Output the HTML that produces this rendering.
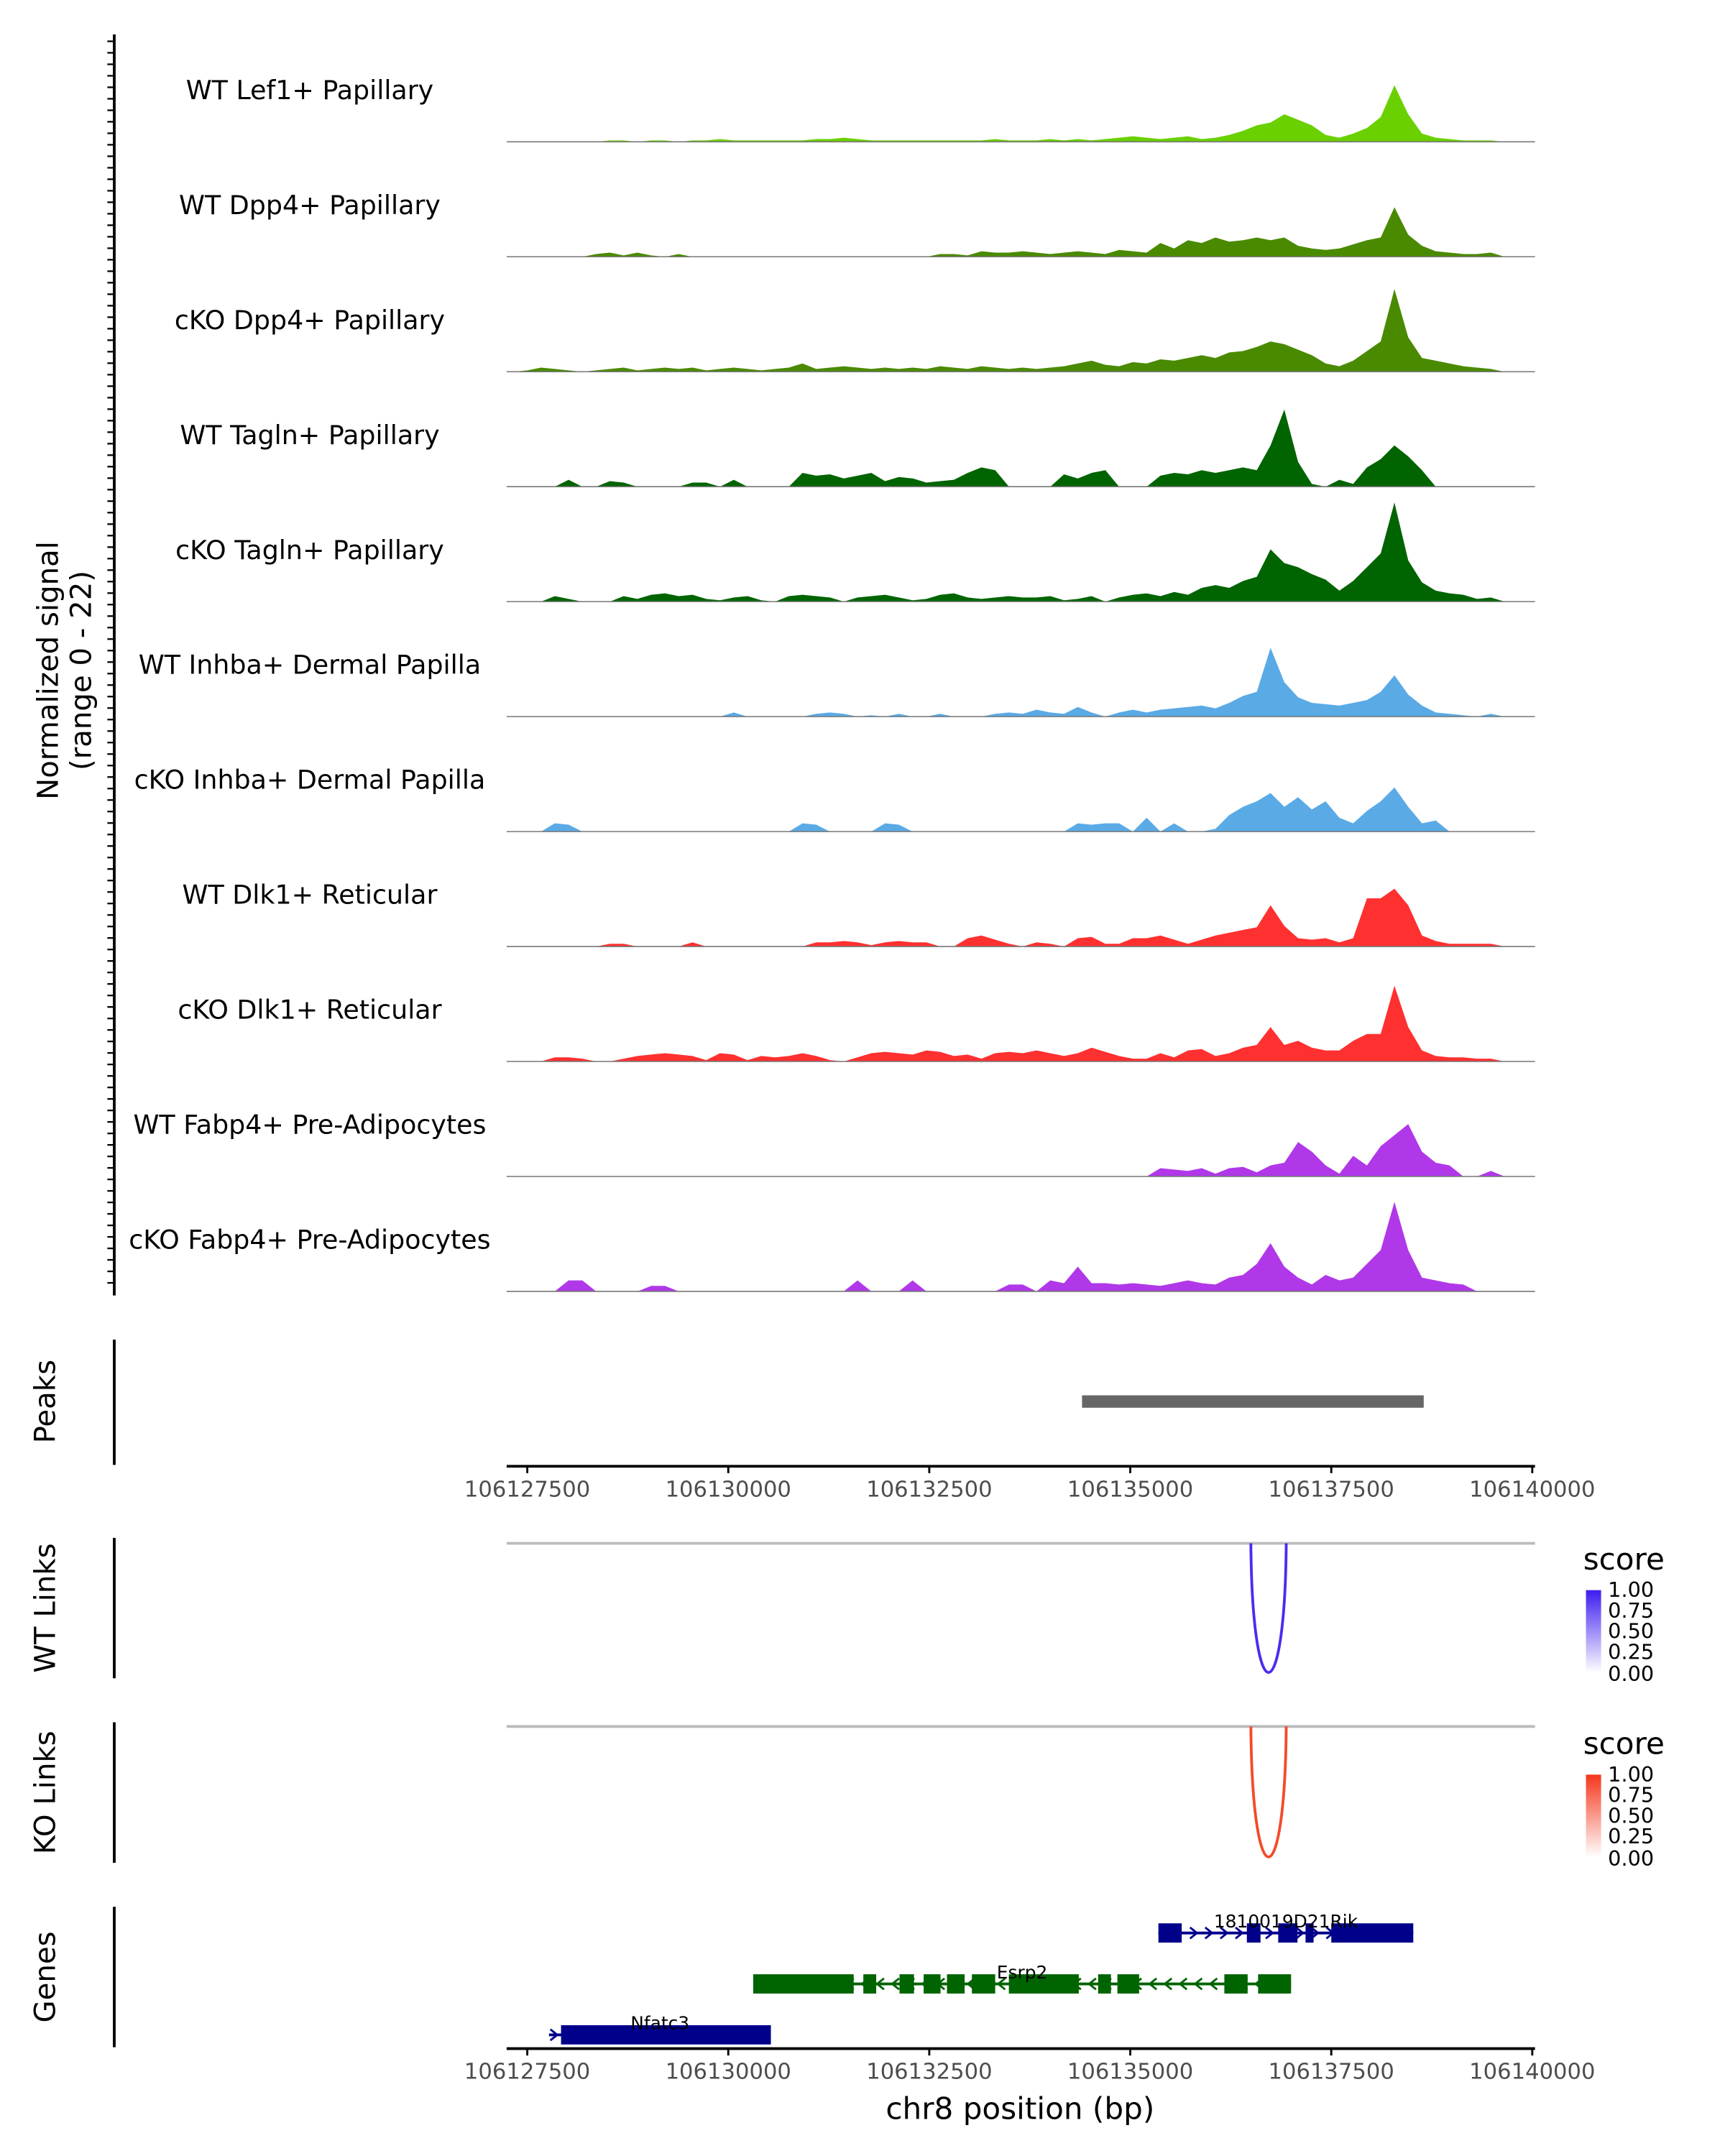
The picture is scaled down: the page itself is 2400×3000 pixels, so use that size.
<!DOCTYPE html>
<html><head><meta charset="utf-8"><style>
html,body{margin:0;padding:0;background:#fff}
svg{display:block;font-family:"DejaVu Sans","Liberation Sans",sans-serif}
</style></head><body>
<svg id="chart" xmlns="http://www.w3.org/2000/svg" width="2400" height="3000" viewBox="0 0 1253 1566" preserveAspectRatio="none">
<rect width="1260" height="1570" fill="#fff"/>
<g id="tracks"></g>
<text transform="translate(42,487) rotate(-90)" text-anchor="middle" font-size="21" fill="#000">Normalized signal</text>
<text transform="translate(66,487) rotate(-90)" text-anchor="middle" font-size="21" fill="#000">(range 0 - 22)</text>
<line x1="83" y1="25" x2="83" y2="941" stroke="#000" stroke-width="2"/>
<g id="ticks"></g>

<text transform="translate(40,1018) rotate(-90)" text-anchor="middle" font-size="21">Peaks</text>
<line x1="83" y1="973" x2="83" y2="1064" stroke="#000" stroke-width="2"/>
<g id="peaks"></g>
<g id="xaxis1"></g>

<text transform="translate(40,1168) rotate(-90)" text-anchor="middle" font-size="21">WT Links</text>
<line x1="83" y1="1117" x2="83" y2="1219" stroke="#000" stroke-width="2"/>
<text transform="translate(40,1302) rotate(-90)" text-anchor="middle" font-size="21">KO Links</text>
<line x1="83" y1="1251" x2="83" y2="1353" stroke="#000" stroke-width="2"/>
<g id="links"></g>

<defs>
<linearGradient id="gb" x1="0" y1="1" x2="0" y2="0"><stop offset="0" stop-color="#fff"/><stop offset="1" stop-color="#3d1df0"/></linearGradient>
<linearGradient id="gr" x1="0" y1="1" x2="0" y2="0"><stop offset="0" stop-color="#fff"/><stop offset="1" stop-color="#f5361c"/></linearGradient>
</defs>
<g>
<text x="1150" y="1140" font-size="22">score</text>
<rect x="1152" y="1155" width="11" height="60" fill="url(#gb)"/>
<g font-size="15" fill="#000"><text x="1168" y="1160">1.00</text><text x="1168" y="1175">0.75</text><text x="1168" y="1190">0.50</text><text x="1168" y="1205">0.25</text><text x="1168" y="1221">0.00</text></g>
</g>
<g>
<text x="1150" y="1274" font-size="22">score</text>
<rect x="1152" y="1289" width="11" height="60" fill="url(#gr)"/>
<g font-size="15" fill="#000"><text x="1168" y="1294">1.00</text><text x="1168" y="1309">0.75</text><text x="1168" y="1324">0.50</text><text x="1168" y="1339">0.25</text><text x="1168" y="1355">0.00</text></g>
</g>

<text transform="translate(40,1436) rotate(-90)" text-anchor="middle" font-size="21">Genes</text>
<line x1="83" y1="1385" x2="83" y2="1487" stroke="#000" stroke-width="2"/>
<g id="genes"></g>
<g id="xaxis2"></g>
<text x="741" y="1539" text-anchor="middle" font-size="22">chr8 position (bp)</text>
</svg>
<script>
const NS="http://www.w3.org/2000/svg";
const trackLabels=["WT Lef1+ Papillary","WT Dpp4+ Papillary","cKO Dpp4+ Papillary","WT Tagln+ Papillary","cKO Tagln+ Papillary","WT Inhba+ Dermal Papilla","cKO Inhba+ Dermal Papilla","WT Dlk1+ Reticular","cKO Dlk1+ Reticular","WT Fabp4+ Pre-Adipocytes","cKO Fabp4+ Pre-Adipocytes"];
const trackColors=["#6ad000","#4a8a00","#4a8a00","#006400","#006400","#5aaae6","#5aaae6","#ff3030","#ff3030","#b038e8","#b038e8"];
const lef1=[0,0,0,0,0,0,0,1,1,0,1,1,0,1,1,2,1,1,1,1,1,1,2,2,3,2,1,1,1,1,1,1,1,1,1,2,1,1,1,2,1,2,1,2,3,4,3,2,3,4,2,3,5,8,12,14,20,16,12,5,3,6,10,18,41,20,6,3,2,1,1,1,0,0,0];
const dpp4WT=[0,0,0,0,0,0,2,3,1,3,1,0,2,0,0,0,0,0,0,0,0,0,0,0,0,0,0,0,0,0,0,2,2,1,4,3,3,4,3,2,3,4,3,2,5,4,3,10,6,12,10,14,11,12,14,12,14,8,6,5,6,9,12,14,36,16,8,4,3,2,2,3,0,0,0];
const dpp4KO=[0,1,3,2,1,0,1,2,3,1,2,3,2,3,1,2,3,2,1,2,3,6,2,3,4,3,2,3,2,3,2,4,3,2,4,3,2,3,2,3,4,6,8,5,4,7,6,9,8,10,12,10,14,15,18,22,20,16,12,6,4,8,15,22,60,25,10,8,6,4,3,2,0,0,0];
const taglnWT=[0,0,0,0,5,0,0,4,3,0,0,0,0,3,3,0,5,0,0,0,0,10,8,9,6,8,10,4,7,6,3,4,5,10,14,12,0,0,0,0,9,6,10,12,0,0,0,8,10,9,12,10,12,14,12,30,56,18,2,0,5,2,14,20,30,22,12,0,0,0,0,0,0,0,0];
const taglnKO=[0,0,0,4,2,0,0,0,4,2,5,6,4,5,2,1,3,4,1,0,4,5,4,3,0,3,4,5,3,1,2,5,6,3,2,3,4,3,3,4,1,2,4,0,3,5,6,4,7,5,10,12,10,15,18,38,28,25,20,16,8,15,25,35,72,30,14,8,6,5,2,3,0,0,0];
const inhbaWT=[0,0,0,0,0,0,0,0,0,0,0,0,0,0,0,0,3,0,0,0,0,0,2,3,2,0,1,0,2,0,0,2,0,0,0,2,3,2,5,3,2,7,3,0,3,5,3,5,6,7,8,6,10,15,18,50,25,14,10,9,8,10,12,18,30,16,8,3,2,1,0,2,0,0,0];
const inhbaKO=[0,0,0,6,5,0,0,0,0,0,0,0,0,0,0,0,0,0,0,0,0,6,5,0,0,0,0,6,5,0,0,0,0,0,0,0,0,0,0,0,0,6,5,6,6,0,10,0,6,0,0,2,12,18,22,28,18,25,16,22,10,6,15,22,32,18,6,8,0,0,0,0,0,0,0];
const dlk1WT=[0,0,0,0,0,0,0,2,2,0,0,0,0,3,0,0,0,0,0,0,0,0,3,3,4,3,1,3,4,3,3,0,0,6,8,5,2,0,3,2,0,6,7,2,2,6,6,8,5,2,5,8,10,12,14,30,15,6,5,6,3,6,35,35,42,30,8,4,2,2,2,2,0,0,0];
const dlk1KO=[0,0,0,3,3,2,0,0,2,4,5,6,5,4,1,6,5,1,4,3,4,6,4,1,0,3,6,7,6,5,8,7,4,5,2,6,7,6,8,6,4,6,10,7,4,2,2,6,3,8,9,4,6,10,12,25,12,15,10,8,8,15,20,20,55,25,8,4,3,3,2,2,0,0,0];
const fabp4WT=[0,0,0,0,0,0,0,0,0,0,0,0,0,0,0,0,0,0,0,0,0,0,0,0,0,0,0,0,0,0,0,0,0,0,0,0,0,0,0,0,0,0,0,0,0,0,0,6,5,4,6,2,6,7,3,8,10,25,18,8,2,15,8,22,30,38,18,10,8,0,0,4,0,0,0];
const fabp4KO=[0,0,0,0,8,8,0,0,0,0,4,4,0,0,0,0,0,0,0,0,0,0,0,0,0,8,0,0,0,8,0,0,0,0,0,0,5,5,0,8,6,18,6,6,5,6,5,4,6,8,6,5,10,12,20,35,18,10,5,12,8,10,20,30,65,30,10,8,6,5,0,0,0,0,0];
const trackValues=[lef1,dpp4WT,dpp4KO,taglnWT,taglnKO,inhbaWT,inhbaKO,dlk1WT,dlk1KO,fabp4WT,fabp4KO];
const xTicks=[106127500,106130000,106132500,106135000,106137500,106140000];
const regionStart=106127243, binSize=171.2;
const peakRegions=[[106134400,106138650]];
const linkWT=[[106136500,106136940,1.0]];
const linkKO=[[106136500,106136940,1.0]];
const genes=[
 {name:"1810019D21Rik",strand:1,row:0,start:106135350,end:106138520,exons:[[106135350,106135640],[106136450,106136620],[106136840,106137080],[106137180,106137280],[106137500,106138520]]},
 {name:"Esrp2",strand:-1,row:1,start:106130310,end:106137000,exons:[[106130310,106131560],[106131680,106131840],[106132130,106132310],[106132430,106132640],[106132720,106132940],[106133030,106133320],[106133490,106134360],[106134600,106134760],[106134840,106135110],[106136170,106136460],[106136590,106137000]]},
 {name:"Nfatc3",strand:1,row:2,start:106127770,end:106130530,exons:[[106127920,106130530]]}
];
const xs=bp=>383+(bp-106127500)*146/2500;
const yMax=75, trackH=75;
function el(t,a,p){const e=document.createElementNS(NS,t);for(const k in a)e.setAttribute(k,a[k]);p.appendChild(e);return e;}
const tracks=document.getElementById('tracks');
trackValues.forEach((vals,i)=>{
  const base=103+i*83.5;
  const g=el('g',{},tracks);
  
  
  let d='M'+xs(regionStart)+','+base;
  vals.forEach((v,j)=>{const x=xs(regionStart+(j+0.5)*binSize);d+=' L'+x.toFixed(1)+','+(base-v/yMax*trackH).toFixed(1);});
  d+=' L'+xs(regionStart+vals.length*binSize).toFixed(1)+','+base+' Z';
  const p=el('path',{d:d,fill:trackColors[i],stroke:'none'},g);
  
  
  const l=el('line',{x1:368,x2:1115,y1:base,y2:base,stroke:'#777','stroke-width':0.8},g);
  
  
  const t=el('text',{x:225,y:base-31,'text-anchor':'middle','font-size':19},g);
  t.textContent=trackLabels[i];
  
  
});
const ticks=document.getElementById('ticks');
for(let y=30;y<=940;y+=8.35){const t=el('line',{x1:78,x2:83,y1:y,y2:y,stroke:'#000','stroke-width':1.2},ticks);}
const peaks=document.getElementById('peaks');
peakRegions.forEach(r=>{const e=el('rect',{x:xs(r[0]),y:1013.5,width:xs(r[1])-xs(r[0]),height:9,fill:'#666'},peaks);});
function axis(id,y){const g=document.getElementById(id);
  el('line',{x1:368,x2:1115,y1:y,y2:y,stroke:'#000','stroke-width':2},g);
  xTicks.forEach(v=>{const x=xs(v);el('line',{x1:x,x2:x,y1:y,y2:y+5,stroke:'#000','stroke-width':1.5},g);
    const t=el('text',{x:x,y:y+22,'text-anchor':'middle','font-size':16,fill:'#4d4d4d'},g);t.textContent=v;});}
axis('xaxis1',1065);axis('xaxis2',1488);
const links=document.getElementById('links');
function drawLinks(arr,top,bottom,color){
  el('line',{x1:368,x2:1115,y1:top,y2:top,stroke:'#bbb','stroke-width':2},links);
  arr.forEach(l=>{const a=xs(l[0]),b=xs(l[1]),depth=(bottom-top)*l[2];
    const p=el('path',{d:`M${a},${top} C${a+1},${top+depth*1.33} ${b-1},${top+depth*1.33} ${b},${top}`,fill:'none',stroke:color,'stroke-width':2},links);
    });
}
drawLinks(linkWT,1121,1215,'#4a2cf0');
drawLinks(linkKO,1254,1349,'#f54a2a');
const gg=document.getElementById('genes');
genes.forEach(g=>{
  const y=1404+g.row*37, col=g.row===1?'#006400':'#00008b';
  const grp=el('g',{},gg);
  
  
  el('line',{x1:xs(g.start),x2:xs(g.end),y1:y,y2:y,stroke:col,'stroke-width':2},grp);
  for(let x=xs(g.start)+4;x<xs(g.end)-3;x+=11){
    const s=g.strand>0?-1:1;
    el('path',{d:`M${x+s*3},${y-4} L${x-s*2},${y} L${x+s*3},${y+4}`,fill:'none',stroke:col,'stroke-width':1.5},grp);
  }
  g.exons.forEach(e=>el('rect',{x:xs(e[0]),y:y-7,width:xs(e[1])-xs(e[0]),height:14,fill:col},grp));
  const t=el('text',{x:(xs(g.start)+xs(g.end))/2,y:y-4,'text-anchor':'middle','font-size':13,fill:'#000'},grp);
  t.textContent=g.name;
  
  
});
</script>
</body></html>
